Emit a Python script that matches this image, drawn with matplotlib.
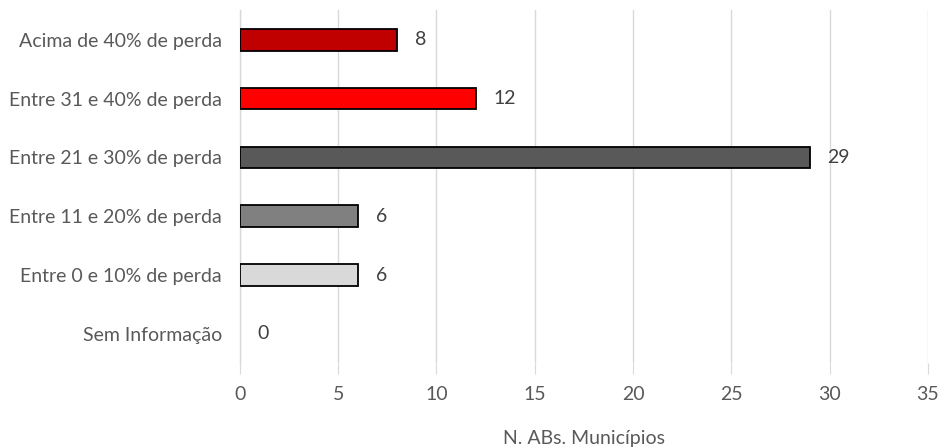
import numpy as np
import matplotlib.pyplot as plt

# data (top to bottom in the chart)
categories = [
    "Acima de 40% de perda",
    "Entre 31 e 40% de perda",
    "Entre 21 e 30% de perda",
    "Entre 11 e 20% de perda",
    "Entre 0 e 10% de perda",
    "Sem Informação",
]
values = [8, 12, 29, 6, 6, 0]
bar_colors = ["#C00000", "#FF0000", "#595959", "#808080", "#D9D9D9", "#FFFFFF"]
x_ticks = [0, 5, 10, 15, 20, 25, 30, 35]
x_label = "N. ABs. Municípios"

TEXT = "#595959"
GRID = "#D9D9D9"
FS = 14

plt.rcParams['font.family'] = ['Lato', 'DejaVu Sans']

fig = plt.figure(figsize=(9.41, 4.48), dpi=100)
ax = fig.add_axes([0.255, 0.189, 0.731, 0.788])

y = np.arange(len(categories))
for yi, v, c in zip(y, values, bar_colors):
    if v > 0:
        ax.barh(yi, v, height=0.37, color=c, edgecolor="black", linewidth=1.3, zorder=3)
    ax.text(v + 0.9, yi, str(v), va="center", ha="left", fontsize=FS, color="#404040")

ax.set_ylim(len(categories) - 0.5, -0.5)
ax.set_xlim(0, 35)
ax.set_yticks(y)
ax.set_yticklabels(categories)
ax.set_xticks(x_ticks)

ax.grid(axis="x", color=GRID, linewidth=1, zorder=0)
for s in ["top", "right", "bottom"]:
    ax.spines[s].set_visible(False)
ax.spines["left"].set_color(GRID)
ax.spines["left"].set_linewidth(1)

ax.tick_params(axis="y", length=0, pad=13, labelsize=FS, labelcolor=TEXT)
ax.tick_params(axis="x", length=8, color=GRID, pad=8, labelsize=FS, labelcolor=TEXT)

ax.set_xlabel(x_label, fontsize=FS, color=TEXT, labelpad=20)

fig.savefig("out.png", dpi=100)
